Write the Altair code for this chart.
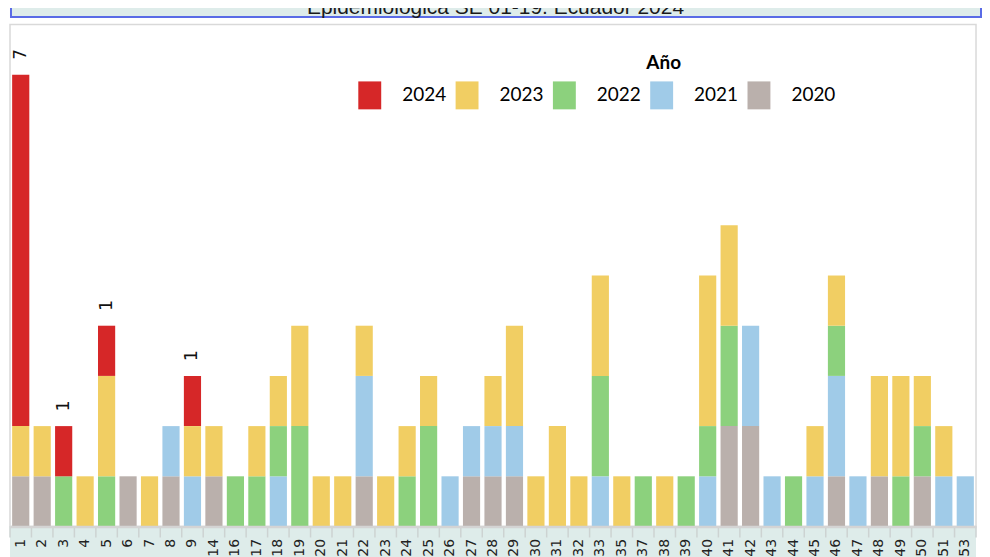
import altair as alt
import pandas as pd

# ---- data ----
weeks = [1, 2, 3, 4, 5, 6, 7, 8, 9, 14,
         16, 17, 18, 19, 20, 21, 22, 23, 24, 25,
         26, 27, 28, 29, 30, 31, 32, 33, 35, 37,
         38, 39, 40, 41, 42, 43, 44, 45, 46, 47,
         48, 49, 50, 51, 53]
y2020 = [1, 1, 0, 0, 0, 1, 0, 1, 0, 1,
         0, 0, 0, 0, 0, 0, 1, 0, 0, 0,
         0, 1, 1, 1, 0, 0, 0, 0, 0, 0,
         0, 0, 0, 2, 2, 0, 0, 0, 1, 0,
         1, 0, 1, 0, 0]
y2021 = [0, 0, 0, 0, 0, 0, 0, 1, 1, 0,
         0, 0, 1, 0, 0, 0, 2, 0, 0, 0,
         1, 1, 1, 1, 0, 0, 0, 1, 0, 0,
         0, 0, 1, 0, 2, 1, 0, 1, 2, 1,
         0, 0, 0, 1, 1]
y2022 = [0, 0, 1, 0, 1, 0, 0, 0, 0, 0,
         1, 1, 1, 2, 0, 0, 0, 0, 1, 2,
         0, 0, 0, 0, 0, 0, 0, 2, 0, 1,
         0, 1, 1, 2, 0, 0, 1, 0, 1, 0,
         0, 1, 1, 0, 0]
y2023 = [1, 1, 0, 1, 2, 0, 1, 0, 1, 1,
         0, 1, 1, 2, 1, 1, 1, 1, 1, 1,
         0, 0, 1, 2, 1, 2, 1, 2, 1, 0,
         1, 0, 3, 2, 0, 0, 0, 1, 1, 0,
         2, 2, 1, 1, 0]
y2024 = [7, 0, 1, 0, 1, 0, 0, 0, 1, 0,
         0, 0, 0, 0, 0, 0, 0, 0, 0, 0,
         0, 0, 0, 0, 0, 0, 0, 0, 0, 0,
         0, 0, 0, 0, 0, 0, 0, 0, 0, 0,
         0, 0, 0, 0, 0]

years = ["2024", "2023", "2022", "2021", "2020"]
colors = ["#d62728", "#f1ce63", "#8cd17d", "#a0cbe8", "#bab0ac"]
title_text = "Epidemiológica SE 01-19. Ecuador 2024"
legend_title = "Año"

# ---- tables ----
series = [("2020", y2020, 0), ("2021", y2021, 1), ("2022", y2022, 2),
          ("2023", y2023, 3), ("2024", y2024, 4)]
rows = []
for i, w in enumerate(weeks):
    for yr, vals, o in series:
        if vals[i] > 0:
            rows.append({"week": str(w), "year": yr, "value": vals[i], "ord": o})
df = pd.DataFrame(rows)

week_labels = [str(w) for w in weeks]
totals = [y2020[i] + y2021[i] + y2022[i] + y2023[i] + y2024[i] for i in range(len(weeks))]
lab = pd.DataFrame({"week": week_labels, "total": totals, "label": y2024})
lab = lab[lab["label"] > 0]
wk = pd.DataFrame({"week": week_labels})
one = pd.DataFrame({"a": [0]})

W, H = 968, 503
step = W / (len(weeks) - 0.2 + 0.2)

xenc = alt.X("week:N", sort=week_labels,
             scale=alt.Scale(paddingInner=0.2, paddingOuter=0.1),
             axis=alt.Axis(title=None, labelAngle=270, labelFont="DejaVu Sans",
                           labelFontSize=14, labelColor="#222222", labelPadding=12,
                           ticks=False, domainColor="#d4d4d4", domainWidth=2.5,
                           zindex=1))

band = alt.Chart(one).mark_rect(fill="#deecea").encode(
    x=alt.value(0), x2=alt.value(W), y=alt.value(H), y2=alt.value(H + 32))

seps = alt.Chart(wk).mark_rule(color="#cdd3d2", strokeWidth=1.5, xOffset=-step / 2).encode(
    x=alt.X("week:N", sort=week_labels), y=alt.value(H), y2=alt.value(H + 11))
sep_end = alt.Chart(one).mark_rule(color="#cdd3d2", strokeWidth=1.5).encode(
    x=alt.value(W), y=alt.value(H), y2=alt.value(H + 11))

bars = alt.Chart(df).mark_bar().encode(
    x=xenc,
    y=alt.Y("value:Q", stack="zero", scale=alt.Scale(domain=[0, 10], nice=False), axis=None),
    color=alt.Color("year:N", scale=alt.Scale(domain=years, range=colors),
                    legend=alt.Legend(orient="none", legendX=346.5, legendY=57,
                                      direction="horizontal", columns=5, title=None,
                                      symbolType="M-0.82,-1H0.82V1H-0.82Z",
                                      symbolSize=784, symbolStrokeWidth=0,
                                      symbolOpacity=1, labelFont="Lato",
                                      labelFontSize=19, labelColor="#000000",
                                      labelOffset=18.5, columnPadding=6.5,
                                      padding=0)),
    order=alt.Order("ord:Q", sort="ascending"),
)

labels = alt.Chart(lab).mark_text(angle=270, align="left", baseline="middle", dx=15,
                                  font="DejaVu Sans", fontSize=17, color="#111111").encode(
    x=alt.X("week:N", sort=week_labels),
    y=alt.Y("total:Q"),
    text=alt.Text("label:Q"),
)

tbox = alt.Chart(one).mark_rect(fill="#deecea", stroke="#5a6be6", strokeWidth=2).encode(
    x=alt.value(1), x2=alt.value(973), y=alt.value(-40), y2=alt.value(-7.5))
ttext = alt.Chart(one).mark_text(font="Liberation Sans", fontSize=21, color="#1a1a1a",
                                 align="center", baseline="alphabetic").encode(
    x=alt.value(486.5), y=alt.value(-11), text=alt.value(title_text))
ano = alt.Chart(one).mark_text(font="Lato", fontSize=19, fontWeight="bold", color="#000000",
                               align="center", baseline="middle").encode(
    x=alt.value(655), y=alt.value(39), text=alt.value(legend_title))

chart = alt.layer(band, seps, sep_end, bars, labels, tbox, ttext, ano).properties(
    width=W, height=H,
    padding={"left": 2, "top": 16, "right": 6, "bottom": 30},
    autosize=alt.AutoSizeParams(type="none"),
    background="white",
).configure_view(stroke="#d9d9d9", strokeWidth=1.5)

chart.save("out.html", embed_options={"renderer": "svg", "actions": False})
